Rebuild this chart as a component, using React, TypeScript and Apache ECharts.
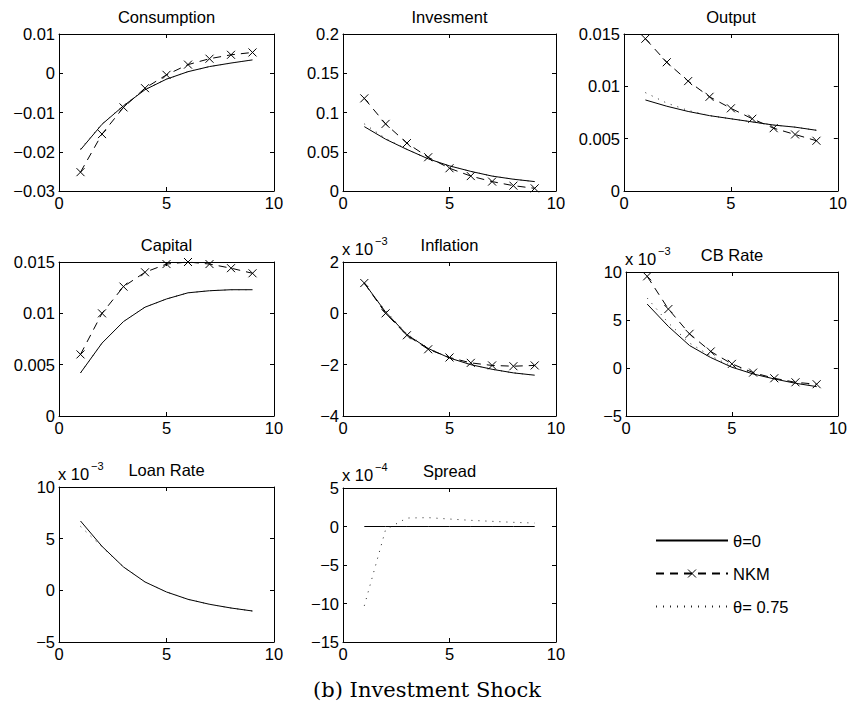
import React, { useEffect, useRef } from "react";
import * as echarts from "echarts";

// ---------- data ----------
const periods = [1, 2, 3, 4, 5, 6, 7, 8, 9];
const nameTheta0 = "θ=0";
const nameNKM = "NKM";
const nameTheta075 = "θ= 0.75";
const xTicks = [0, 5, 10];

const consumptionTheta0 = [-0.0195, -0.013, -0.0083, -0.0042, -0.0015, 0.0004, 0.0017, 0.0026, 0.0034];
const consumptionNKM = [-0.0252, -0.0155, -0.0087, -0.0038, -0.0004, 0.0022, 0.0037, 0.0047, 0.0053];
const consumptionTheta075 = [-0.0193, -0.0129, -0.0082, -0.0041, -0.0015, 0.0004, 0.0017, 0.0026, 0.0034];

const investmentTheta0 = [0.082, 0.066, 0.053, 0.041, 0.032, 0.025, 0.019, 0.015, 0.012];
const investmentNKM = [0.118, 0.0855, 0.061, 0.043, 0.029, 0.019, 0.012, 0.0068, 0.0034];
const investmentTheta075 = [0.0855, 0.067, 0.053, 0.041, 0.032, 0.025, 0.019, 0.015, 0.012];

const outputTheta0 = [0.0087, 0.0081, 0.0076, 0.0072, 0.0069, 0.0066, 0.0063, 0.0061, 0.0058];
const outputNKM = [0.01455, 0.0123, 0.0105, 0.009, 0.0079, 0.0069, 0.006, 0.0054, 0.0048];
const outputTheta075 = [0.0094, 0.0084, 0.0077, 0.0072, 0.0069, 0.0066, 0.0063, 0.0061, 0.0058];

const capitalTheta0 = [0.0042, 0.0071, 0.0092, 0.0106, 0.0114, 0.012, 0.0122, 0.0123, 0.0123];
const capitalNKM = [0.006, 0.01, 0.0126, 0.014, 0.0148, 0.015, 0.0148, 0.0144, 0.0139];
const capitalTheta075 = [0.0042, 0.0071, 0.0092, 0.0106, 0.0114, 0.012, 0.0122, 0.0123, 0.0123];

// x 10^-3
const inflationTheta0 = [1.18, 0.05, -0.83, -1.37, -1.74, -2.0, -2.18, -2.32, -2.41];
const inflationNKM = [1.18, 0.0, -0.855, -1.4, -1.72, -1.93, -2.03, -2.06, -2.03];
const inflationTheta075 = [1.15, 0.1, -0.8, -1.36, -1.74, -2.0, -2.18, -2.32, -2.41];

// x 10^-3
const cbRateTheta0 = [6.66, 4.33, 2.34, 1.09, 0.08, -0.62, -1.14, -1.59, -1.94];
const cbRateNKM = [9.55, 6.14, 3.56, 1.72, 0.43, -0.48, -1.07, -1.49, -1.69];
const cbRateTheta075 = [7.29, 4.7, 2.6, 1.25, 0.2, -0.55, -1.1, -1.55, -1.9];

// x 10^-3
const loanRateTheta0 = [6.71, 4.26, 2.26, 0.81, -0.16, -0.87, -1.35, -1.71, -2.0];
const loanRateTheta075 = [6.19, 4.2, 2.26, 0.81, -0.16, -0.87, -1.35, -1.71, -2.0];

// x 10^-4
const spreadTheta0 = [0, 0, 0, 0, 0, 0, 0, 0, 0];
const spreadTheta075 = [-10.3, -0.4, 1.1, 1.15, 0.97, 0.8, 0.67, 0.54, 0.45];

const caption = "(b) Investment Shock";

// ---------- layout ----------
type Panel = {
  title: string;
  left: number;
  top: number;
  width: number;
  height: number;
  yMin: number;
  yMax: number;
  yStep: number;
  exp?: string;
  theta0: number[];
  nkm?: number[];
  theta075: number[];
};

const colL = [59, 343, 624];
const colW = [215, 213, 214];

const panels: Panel[] = [
  { title: "Consumption", left: colL[0], top: 34, width: colW[0], height: 157, yMin: -0.03, yMax: 0.01, yStep: 0.01, theta0: consumptionTheta0, nkm: consumptionNKM, theta075: consumptionTheta075 },
  { title: "Invesment", left: colL[1], top: 34, width: colW[1], height: 157, yMin: 0, yMax: 0.2, yStep: 0.05, theta0: investmentTheta0, nkm: investmentNKM, theta075: investmentTheta075 },
  { title: "Output", left: colL[2], top: 34, width: colW[2], height: 157, yMin: 0, yMax: 0.015, yStep: 0.005, theta0: outputTheta0, nkm: outputNKM, theta075: outputTheta075 },
  { title: "Capital", left: colL[0], top: 262, width: colW[0], height: 154, yMin: 0, yMax: 0.015, yStep: 0.005, theta0: capitalTheta0, nkm: capitalNKM, theta075: capitalTheta075 },
  { title: "Inflation", left: colL[1], top: 262, width: colW[1], height: 154, yMin: -4, yMax: 2, yStep: 2, exp: "−3", theta0: inflationTheta0, nkm: inflationNKM, theta075: inflationTheta075 },
  { title: "CB Rate", left: colL[2] + 2, top: 272, width: colW[2] - 2, height: 144, yMin: -5, yMax: 10, yStep: 5, exp: "−3", theta0: cbRateTheta0, nkm: cbRateNKM, theta075: cbRateTheta075 },
  { title: "Loan Rate", left: colL[0], top: 487, width: colW[0], height: 155, yMin: -5, yMax: 10, yStep: 5, exp: "−3", theta0: loanRateTheta0, theta075: loanRateTheta075 },
  { title: "Spread", left: colL[1], top: 488, width: colW[1], height: 154, yMin: -15, yMax: 5, yStep: 5, exp: "−4", theta0: spreadTheta0, theta075: spreadTheta075 },
];

const FONT = "Liberation Sans";
const FS = 16.5;
const xSymbol = "path://M0,0L10,10M10,0L0,10";

function fmt(v: number): string {
  const s = parseFloat(v.toFixed(6)).toString();
  return s.replace("-", "−");
}

function buildOption() {
  const grid: any[] = [];
  const xAxis: any[] = [];
  const yAxis: any[] = [];
  const series: any[] = [];
  const graphic: any[] = [];

  const axisLine = { show: true, onZero: false, lineStyle: { color: "#000", width: 1 } };
  const axisTick = { show: true, inside: true, length: 4, lineStyle: { color: "#000", width: 1 } };

  panels.forEach((p, i) => {
    grid.push({ left: p.left, top: p.top, width: p.width, height: p.height, containLabel: false });
    xAxis.push({
      type: "value", gridIndex: i, position: "bottom", min: 0, max: 10, interval: 5,
      axisLine, axisTick, splitLine: { show: false },
      axisLabel: { show: true, margin: 3, color: "#000", fontFamily: FONT, fontSize: FS, formatter: (v: number) => (xTicks.includes(v) ? String(v) : "") },
    });
    xAxis.push({
      type: "value", gridIndex: i, position: "top", min: 0, max: 10, interval: 5,
      axisLine, axisTick, splitLine: { show: false }, axisLabel: { show: false },
    });
    yAxis.push({
      type: "value", gridIndex: i, position: "left", min: p.yMin, max: p.yMax, interval: p.yStep,
      axisLine, axisTick, splitLine: { show: false },
      axisLabel: { show: true, margin: 4, color: "#000", fontFamily: FONT, fontSize: FS, formatter: fmt },
    });
    yAxis.push({
      type: "value", gridIndex: i, position: "right", min: p.yMin, max: p.yMax, interval: p.yStep,
      axisLine, axisTick, splitLine: { show: false }, axisLabel: { show: false },
    });

    const toData = (arr: number[]) => periods.map((x, k) => [x, arr[k]]);

    series.push({
      name: nameTheta0, type: "line", xAxisIndex: 2 * i, yAxisIndex: 2 * i,
      data: toData(p.theta0), symbol: "none", silent: true,
      lineStyle: { color: "#000", width: 1, type: "solid" },
      itemStyle: { color: "rgba(0,0,0,0)", borderWidth: 0 },
    });
    if (p.nkm) {
      series.push({
        name: nameNKM, type: "line", xAxisIndex: 2 * i, yAxisIndex: 2 * i,
        data: toData(p.nkm), symbol: xSymbol, symbolSize: 8, showSymbol: true, silent: true,
        lineStyle: { color: "#000", width: 1, type: [8, 6] },
        itemStyle: { color: "none", borderColor: "#000", borderWidth: 1 },
      });
    }
    series.push({
      name: nameTheta075, type: "line", xAxisIndex: 2 * i, yAxisIndex: 2 * i,
      data: toData(p.theta075), symbol: "none", silent: true,
      lineStyle: { color: "#222", width: 1, type: [1, 6] },
      itemStyle: { color: "rgba(0,0,0,0)", borderWidth: 0 },
    });

    graphic.push({
      type: "text", x: p.left + p.width / 2, y: p.top - 17,
      style: { text: p.title, fill: "#000", font: `${FS}px "${FONT}"`, align: "center", verticalAlign: "middle" },
    });
    if (p.exp) {
      graphic.push({
        type: "text", x: p.left - 1, y: p.top - 13,
        style: { text: "x 10", fill: "#000", font: `${FS}px "${FONT}"`, align: "left", verticalAlign: "middle" },
      });
      graphic.push({
        type: "text", x: p.left + 32, y: p.top - 21,
        style: { text: p.exp, fill: "#000", font: `11px "${FONT}"`, align: "left", verticalAlign: "middle" },
      });
    }
  });

  graphic.push({
    type: "text", x: 427, y: 690,
    style: { text: caption, fill: "#000", font: `21px "DejaVu Serif"`, align: "center", verticalAlign: "middle" },
  });

  return {
    animation: false,
    backgroundColor: "#fff",
    grid,
    xAxis,
    yAxis,
    series,
    graphic,
    legend: {
      show: true,
      data: [
        { name: nameTheta0, itemStyle: { opacity: 0 } },
        { name: nameNKM, itemStyle: { color: "none", borderColor: "#000", borderWidth: 1 } },
        { name: nameTheta075, itemStyle: { opacity: 0 } },
      ],
      orient: "vertical",
      left: 655,
      top: 532,
      padding: 0,
      itemWidth: 72,
      itemHeight: 10,
      itemGap: 16,
      itemTextGap: 8,
      selectedMode: false,
      textStyle: { color: "#000", fontFamily: FONT, fontSize: FS },
    },
  };
}

export default function App() {
  const ref = useRef<HTMLDivElement>(null);
  useEffect(() => {
    document.body.style.margin = "0";
    if (!ref.current) return;
    const chart = echarts.init(ref.current, undefined, { renderer: "svg" });
    chart.setOption(buildOption() as any);
    return () => chart.dispose();
  }, []);
  return <div ref={ref} style={{ width: 850, height: 709 }} />;
}
